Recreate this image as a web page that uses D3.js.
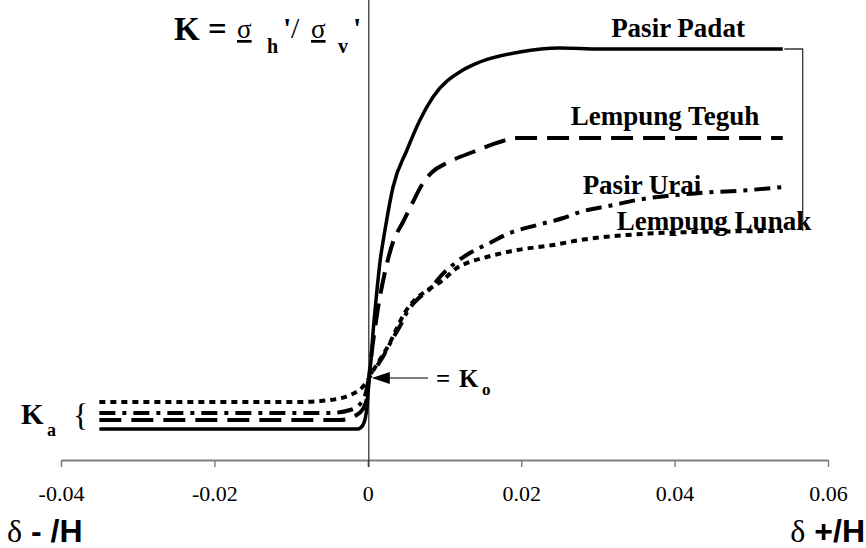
<!DOCTYPE html>
<html>
<head>
<meta charset="utf-8">
<script src="https://cdn.jsdelivr.net/npm/d3@7"></script>
<style>
  body { margin: 0; background: #fff; }
  svg { display: block; }
  .lbl { font-family: "Liberation Serif", "Times New Roman", serif; font-weight: bold; }
</style>
</head>
<body>
<div id="chart"></div>
<script>
// x = delta / H, y = K (scale of the drawing only, no y ticks in the figure)
var xTicks = [-0.04, -0.02, 0, 0.02, 0.04, 0.06];

var padatX = [-0.035, -0.00128, -0.00063, -0.0001, 0.00016, 0.00042, 0.00068, 0.00107, 0.00159, 0.00224, 0.00329, 0.00511, 0.0068, 0.0085, 0.0124, 0.0146, 0.0198, 0.025, 0.0303, 0.0541];
var padatY = [0.31, 0.31, 0.35, 0.53, 0.82, 1.00, 1.27, 1.60, 1.98, 2.30, 2.73, 3.10, 3.40, 3.63, 3.90, 3.98, 4.08, 4.12, 4.11, 4.11];

var teguhX = [-0.035, -0.0036, -0.0017, -0.00063, -0.0001, 0.00016, 0.00055, 0.00094, 0.00133, 0.00224, 0.00329, 0.00459, 0.0055, 0.0072, 0.0084, 0.0103, 0.0137, 0.0176, 0.0192, 0.0541];
var teguhY = [0.40, 0.40, 0.44, 0.51, 0.62, 0.82, 1.10, 1.32, 1.52, 1.88, 2.18, 2.38, 2.52, 2.77, 2.88, 2.97, 3.08, 3.19, 3.22, 3.22];

var uraiX = [-0.035, -0.0049, -0.0023, -0.001, -0.00023, 0.00016, 0.0012, 0.0021, 0.003, 0.0042, 0.0052, 0.0065, 0.0081, 0.0094, 0.0114, 0.0133, 0.0159, 0.0185, 0.0221, 0.0255, 0.0277, 0.032, 0.0351, 0.0433, 0.0498, 0.0541];
var uraiY = [0.47, 0.47, 0.50, 0.56, 0.68, 0.82, 0.94, 1.05, 1.18, 1.34, 1.49, 1.61, 1.71, 1.83, 1.97, 2.07, 2.17, 2.27, 2.35, 2.42, 2.48, 2.55, 2.60, 2.67, 2.70, 2.73];

var lunakX = [-0.035, -0.0088, -0.0049, -0.0023, -0.0008, 0.00016, 0.0009, 0.0018, 0.0028, 0.0038, 0.0048, 0.0061, 0.0078, 0.0098, 0.0116, 0.0133, 0.0155, 0.0195, 0.0242, 0.0277, 0.0338, 0.0424, 0.0541];
var lunakY = [0.58, 0.58, 0.60, 0.65, 0.72, 0.82, 0.92, 1.03, 1.16, 1.32, 1.47, 1.60, 1.70, 1.80, 1.92, 1.98, 2.03, 2.10, 2.15, 2.20, 2.25, 2.28, 2.29];

var seriesNames = ["Pasir Padat", "Lempung Teguh", "Pasir Urai", "Lempung Lunak"];

var width = 866, height = 548;
var svg = d3.select("#chart").append("svg")
    .attr("width", width)
    .attr("height", height);

var x = d3.scaleLinear().domain([-0.04, 0.06]).range([61, 828]);
var y = d3.scaleLinear().domain([0, 4.6]).range([460, 0]);

// x axis
var xAxis = d3.axisBottom(x)
    .tickValues(xTicks)
    .tickSize(7)
    .tickSizeOuter(0)
    .tickFormat(d => String(d));

var gx = svg.append("g")
    .attr("transform", "translate(0," + y(0) + ")")
    .call(xAxis);
gx.select(".domain").attr("stroke", "#808080").attr("stroke-width", 2);
gx.selectAll(".tick line").attr("stroke", "#808080").attr("stroke-width", 1.5);
gx.selectAll(".tick text")
    .attr("y", 25).attr("dy", "0.71em")
    .style("font-family", "'Liberation Serif', 'Times New Roman', serif")
    .style("font-size", "22px")
    .style("fill", "#000");

// vertical line at 0
svg.append("line")
    .attr("x1", x(0) + 1).attr("x2", x(0) + 1)
    .attr("y1", 0).attr("y2", y(0) + 7)
    .attr("stroke", "#333").attr("stroke-width", 1.3);

// curves
var series = [
    { xs: padatX, ys: padatY, dash: null, w: 3.5 },
    { xs: teguhX, ys: teguhY, dash: "22,10", w: 4 },
    { xs: uraiX, ys: uraiY, dash: "16,7,4,7", w: 4 },
    { xs: lunakX, ys: lunakY, dash: "6,5", w: 4 }
];

var line = d3.line()
    .x(d => x(d[0]))
    .y(d => y(d[1]))
    .curve(d3.curveMonotoneX);

series.forEach(s => {
    var pts = s.xs.map((v, i) => [v, s.ys[i]]);
    svg.append("path")
        .attr("d", line(pts))
        .attr("fill", "none")
        .attr("stroke", "#000")
        .attr("stroke-width", s.w)
        .attr("stroke-dasharray", s.dash);
});

// bracket joining the right ends
var bx0 = x(0.0543), bx1 = x(0.0567);
svg.append("path")
    .attr("d", "M" + bx0 + "," + y(padatY[padatY.length - 1]) +
        "H" + bx1 + "V" + y(lunakY[lunakY.length - 1]))
    .attr("fill", "none")
    .attr("stroke", "#333")
    .attr("stroke-width", 1.3);

// series labels
var labelPos = [[678, 37], [665, 125], [642, 194], [714, 230]];
svg.selectAll(".series-label")
    .data(seriesNames)
    .enter().append("text")
    .attr("class", "lbl")
    .attr("x", (d, i) => labelPos[i][0])
    .attr("y", (d, i) => labelPos[i][1])
    .attr("text-anchor", "middle")
    .style("font-size", "27px")
    .text(d => d);

// title K = sigma_h' / sigma_v'
var title = svg.append("g").attr("class", "lbl");
function piece(txt, px, py, size, bold, underline) {
    title.append("text")
        .attr("x", px).attr("y", py)
        .style("font-family", "'Liberation Serif', serif")
        .style("font-size", size + "px")
        .style("font-weight", bold ? "bold" : "normal")
        .style("text-decoration", underline ? "underline" : null)
        .text(txt);
}
piece("K", 174, 40, 33, true);
piece("=", 208, 40, 33, true);
piece("σ", 237, 38, 27, false, true);
piece("h", 267, 53, 20, true);
piece("'", 283, 38, 30, true);
piece("/", 291, 38, 30, false);
piece("σ", 311, 38, 27, false, true);
piece("v", 338, 53, 20, true);
piece("'", 353, 38, 30, true);

// K_a label
piece("K", 21, 424, 29, true);
piece("a", 47, 436, 18, true);
piece("{", 73, 426, 32, false);

// K_o arrow and label
var ax = x(0) + 4, ay = y(0.82);
svg.append("line")
    .attr("x1", ax + 14).attr("x2", 428)
    .attr("y1", ay).attr("y2", ay)
    .attr("stroke", "#000").attr("stroke-width", 1.2);
svg.append("path")
    .attr("d", "M" + ax + "," + ay + "L" + (ax + 18) + "," + (ay - 6) + "L" + (ax + 18) + "," + (ay + 6) + "Z")
    .attr("fill", "#000");
piece("=", 436, 387, 25, true);
piece("K", 459, 387, 25, true);
piece("o", 482, 395, 17, true);

// bottom axis captions
function caption(parts, px, py, anchor) {
    var t = svg.append("text").attr("x", px).attr("y", py).attr("text-anchor", anchor);
    parts.forEach(p => {
        t.append("tspan")
            .style("font-family", p.serif ? "'Liberation Serif', serif" : "'Liberation Sans', Arial, sans-serif")
            .style("font-weight", p.serif ? "normal" : "bold")
            .style("font-size", "32px")
            .text(p.t);
    });
}
caption([{ t: "δ", serif: true }, { t: " - /H" }], 7, 542, "start");
caption([{ t: "δ", serif: true }, { t: " +/H" }], 865, 542, "end");
</script>
</body>
</html>
